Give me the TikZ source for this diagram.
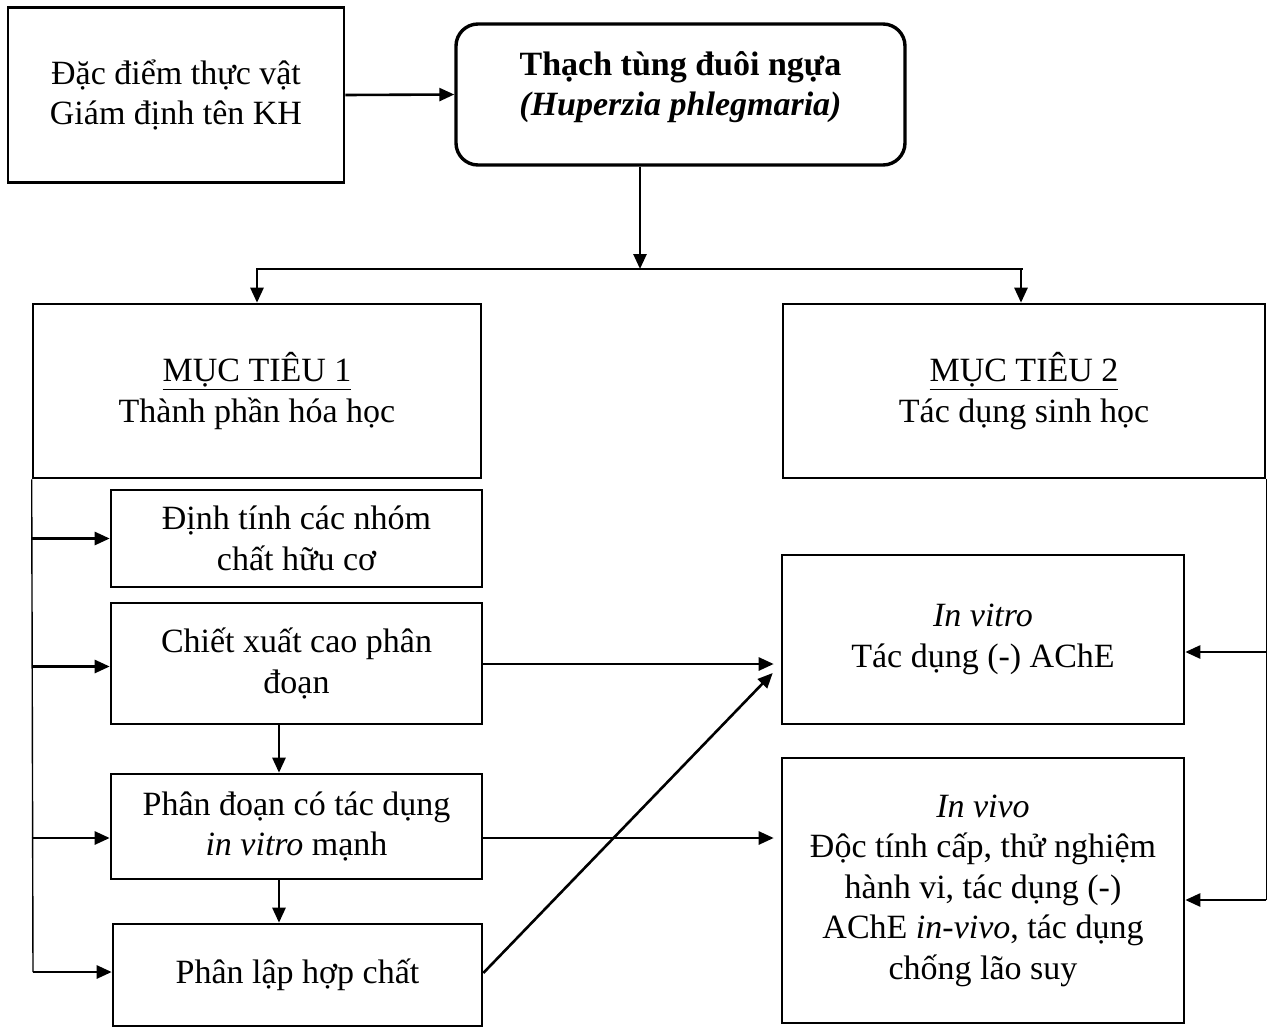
\documentclass[tikz,border=0pt]{standalone}
\usepackage{fontspec}
\setmainfont{Liberation Serif}
\usetikzlibrary{arrows.meta}
\begin{document}
\begin{tikzpicture}[x=1pt,y=-1pt,
  box/.style={draw, line width=2.6pt, inner sep=0pt, align=center,
    font=\fontsize{34}{40.5}\selectfont},
  txt/.style={inner sep=0pt, align=center, font=\fontsize{34}{40.5}\selectfont},
  arr/.style={line width=2.6pt, -{Triangle[length=15pt,width=13pt]}},
  thinline/.style={line width=1.4pt}]
\useasboundingbox (0,0) rectangle (1270,1028);

% top row
\node[box, minimum width=336pt, minimum height=175pt] (A) at (176,95)
  {Đặc điểm thực vật\\Giám định tên KH};
\node[box, line width=3.4pt, rounded corners=22pt,
  minimum width=449pt, minimum height=141pt] (B) at (680.5,94.5) {};
\node[txt, font=\fontsize{34}{40.5}\selectfont\bfseries] (Bt) at ([yshift=7.5pt]B.center)
  {Thạch tùng đuôi ngựa\\\textit{(Huperzia phlegmaria)}};

% objectives
\node[box, minimum width=448pt, minimum height=174pt] (M1) at (257,391)
  {\underline{MỤC TIÊU 1}\\Thành phần hóa học};
\node[box, minimum width=482pt, minimum height=174pt] (M2) at (1024,391)
  {\underline{MỤC TIÊU 2}\\Tác dụng sinh học};

% chemistry steps
\node[box, minimum width=371pt, minimum height=97pt] (D1) at (296.5,538.5)
  {Định tính các nhóm\\chất hữu cơ};
\node[box, minimum width=371pt, minimum height=121pt] (D2) at (296.5,663.5)
  {Chiết xuất cao phân\\đoạn};
\node[box, minimum width=371pt, minimum height=105pt] (D3) at (296.5,826.5)
  {Phân đoạn có tác dụng\\\textit{in vitro} mạnh};
\node[box, minimum width=369pt, minimum height=102pt] (D4) at (297.5,975)
  {Phân lập hợp chất};

% biological tests
\node[box, minimum width=402pt, minimum height=169pt] (V1) at (983,639.5)
  {\textit{In vitro}\\Tác dụng (-) AChE};
\node[box, minimum width=402pt, minimum height=265pt] (V2) at (983,890.5)
  {\textit{In vivo}\\Độc tính cấp, thử nghiệm\\hành vi, tác dụng (-)\\AChE \textit{in-vivo}, tác dụng\\chống lão suy};

% branching below the plant
\coordinate (br) at (640,269);
\coordinate (bl) at (257,269);
\coordinate (brr) at (1021,269);
\draw[arr] (B.south -| br) -- (br);
\draw[thinline] ([xshift=-0.7pt]bl) -- ([xshift=2pt]brr);
\draw[arr] (bl) -- (bl |- M1.north);
\draw[arr] (brr) -- (brr |- M2.north);
\draw[arr] (A.east) -- (B.west);

% left spine
\coordinate (ls) at (33,972);
\draw[thinline] (M1.south west) -- (ls);
\draw[arr] (D1.west -| M1.west) -- (D1.west);
\draw[arr] ([yshift=-3pt]D2.west -| M1.west) -- ([yshift=-3pt]D2.west);
\draw[arr] ([yshift=-11.5pt]D3.west -| M1.west) -- ([yshift=-11.5pt]D3.west);
\draw[arr] ([yshift=3pt]D4.west -| ls) -- ([yshift=3pt]D4.west);

% vertical steps
\draw[arr] ([xshift=-17.5pt]D2.south) -- ([xshift=-17.5pt]D3.north);
\draw[arr] ([xshift=-17.5pt]D3.south) -- ([xshift=-18.5pt]D4.north);

% links to the tests
\draw[arr, shorten >=7pt] ([yshift=-0.5pt]D2.east) -- ([yshift=-0.5pt]D2.east -| V1.west);
\draw[arr, shorten >=7pt] ([yshift=-11.5pt]D3.east) -- ([yshift=-11.5pt]D3.east -| V2.west);
\draw[arr] ([yshift=2pt]D4.east) -- ([xshift=-8pt,yshift=-33.5pt]V1.west);

% right spine
\draw[thinline] (M2.south east) -- ([yshift=-9.5pt]V2.east -| M2.east);
\draw[arr] ([yshift=-12.5pt]V1.east -| M2.east) -- ([yshift=-12.5pt]V1.east);
\draw[arr] ([yshift=-9.5pt]V2.east -| M2.east) -- ([yshift=-9.5pt]V2.east);
\end{tikzpicture}
\end{document}
